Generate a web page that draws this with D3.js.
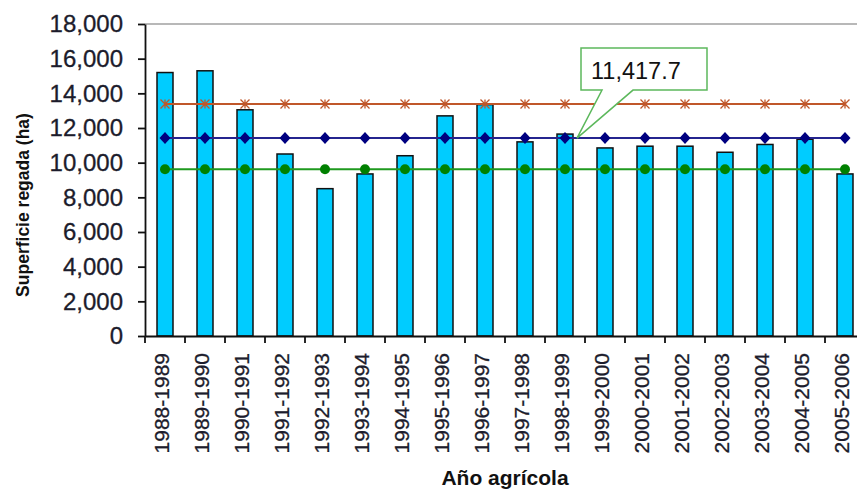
<!DOCTYPE html>
<html>
<head>
<meta charset="utf-8">
<script src="https://cdn.jsdelivr.net/npm/d3@7"></script>
<style>
  body { margin: 0; background: #fff; }
  svg { display: block; }
  text { font-family: "Liberation Sans", Arial, sans-serif; }
</style>
</head>
<body>
<svg width="857" height="491"></svg>
<script>
// data
const years = ["1988-1989", "1989-1990", "1990-1991", "1991-1992", "1992-1993", "1993-1994",
  "1994-1995", "1995-1996", "1996-1997", "1997-1998", "1998-1999", "1999-2000",
  "2000-2001", "2001-2002", "2002-2003", "2003-2004", "2004-2005", "2005-2006"]
const superficie = [15200, 15300, 13050, 10500, 8500, 9350, 10400, 12700, 13350,
  11200, 11650, 10850, 10950, 10950, 10600, 11050, 11350, 9350]
const upperLine = years.map(() => 13380)
const meanLine = years.map(() => 11417.7)
const lowerLine = years.map(() => 9620)
const yTicks = [0, 2000, 4000, 6000, 8000, 10000, 12000, 14000, 16000, 18000]
const calloutYear = "1998-1999"
const calloutValue = 11417.7

const svg = d3.select("svg")

// plot area (runs past the right edge, like the cropped original)
const plotLeft = 145, plotTop = 24, plotBottom = 336, plotRight = 865

const x = d3.scaleBand()
  .domain(years)
  .range([plotLeft, plotRight])
  .paddingInner(0.6)
  .paddingOuter(0.3)

const y = d3.scaleLinear()
  .domain([0, 18000])
  .range([plotBottom, plotTop])

const cx = d => x(d) + x.bandwidth() / 2

// gray top border of plot area
svg.append("line")
  .attr("x1", plotLeft).attr("x2", plotRight)
  .attr("y1", y(18000)).attr("y2", y(18000))
  .style("stroke", "#a0a0a0")
  .style("stroke-width", 1.5)

// bars
svg.append("g")
  .selectAll("rect")
  .data(superficie)
  .join("rect")
  .attr("x", (d, i) => x(years[i]))
  .attr("y", d => y(d))
  .attr("width", x.bandwidth())
  .attr("height", d => y(0) - y(d))
  .style("fill", "#00ccff")
  .style("stroke", "#111")
  .style("stroke-width", 1.5)

// horizontal reference lines
const line = d3.line()
  .x((d, i) => cx(years[i]))
  .y(d => y(d))

function drawSeries(values, lineColor) {
  svg.append("path")
    .datum(values)
    .attr("fill", "none")
    .attr("stroke", lineColor)
    .attr("stroke-width", 2)
    .attr("d", line)
}

drawSeries(upperLine, "#c0572a")
drawSeries(meanLine, "#25258f")
drawSeries(lowerLine, "#1f9a1f")

// star markers (x with a vertical bar)
svg.append("g")
  .selectAll("path")
  .data(upperLine)
  .join("path")
  .attr("d", (d, i) => {
    const px = cx(years[i]), py = y(d), s = 4.5
    return `M${px - s},${py - s}L${px + s},${py + s}M${px - s},${py + s}L${px + s},${py - s}M${px},${py - s}L${px},${py + s}`
  })
  .style("stroke", "#c0572a")
  .style("stroke-width", 1.3)
  .style("fill", "none")

// diamond markers
svg.append("g")
  .selectAll("path")
  .data(meanLine)
  .join("path")
  .attr("transform", (d, i) => `translate(${cx(years[i])},${y(d)})`)
  .attr("d", "M0,-6L5.5,0L0,6L-5.5,0Z")
  .style("fill", "#000080")

// circle markers
svg.append("g")
  .selectAll("circle")
  .data(lowerLine)
  .join("circle")
  .attr("cx", (d, i) => cx(years[i]))
  .attr("cy", d => y(d))
  .attr("r", 5)
  .style("fill", "#008000")

// y axis
const yaxis_group = svg.append("g")
  .attr("transform", "translate(" + plotLeft + ",0)")
  .call(d3.axisLeft(y)
    .tickValues(yTicks)
    .tickFormat(d3.format(","))
    .tickSize(7)
    .tickSizeOuter(0)
    .tickPadding(15))
yaxis_group.selectAll("line,path")
  .style("stroke", "#111")
  .style("stroke-width", 1.8)
yaxis_group.selectAll("text")
  .style("font-size", "24px")
  .style("fill", "#1c1c2c")
  .style("stroke", "#1c1c2c")
  .style("stroke-width", 0.3)

// x axis: ticks between the categories
const xaxis_group = svg.append("g")
  .attr("transform", "translate(0," + plotBottom + ")")
  .call(d3.axisBottom(x).tickSize(7).tickSizeOuter(0))
xaxis_group.selectAll("path")
  .style("stroke", "#111")
  .style("stroke-width", 1.8)
xaxis_group.selectAll(".tick line")
  .attr("x1", -x.step() / 2)
  .attr("x2", -x.step() / 2)
  .style("stroke", "#111")
  .style("stroke-width", 1.8)
xaxis_group.selectAll("text")
  .attr("transform", "rotate(-90)")
  .attr("text-anchor", "end")
  .attr("x", -17)
  .attr("y", -3)
  .attr("dy", "0.35em")
  .style("font-size", "21px")
  .style("fill", "#1c1c2c")
  .style("stroke", "#1c1c2c")
  .style("stroke-width", 0.3)

// axis titles
svg.append("text")
  .attr("transform", `translate(29,${(plotTop + plotBottom) / 2 + 25}) rotate(-90)`)
  .attr("text-anchor", "middle")
  .style("font-size", "17.5px")
  .style("font-weight", "bold")
  .style("fill", "#111")
  .text("Superficie regada (ha)")

svg.append("text")
  .attr("x", (plotLeft + plotRight) / 2)
  .attr("y", 485)
  .attr("text-anchor", "middle")
  .style("font-size", "21px")
  .style("font-weight", "bold")
  .style("fill", "#111")
  .text("Año agrícola")

// callout pointing at the mean line
const tip = { x: cx(calloutYear) + 12, y: y(calloutValue) }
const box = { x: tip.x + 4, y: tip.y - 90, w: 126, h: 42 }
svg.append("path")
  .attr("d", `M${box.x},${box.y}H${box.x + box.w}V${box.y + box.h}H${tip.x + 56}L${tip.x},${tip.y}L${tip.x + 25},${box.y + box.h}H${box.x}Z`)
  .style("fill", "#fff")
  .style("stroke", "#5cb85c")
  .style("stroke-width", 1.5)
svg.append("text")
  .attr("x", box.x + 10)
  .attr("y", box.y + 31)
  .style("font-size", "23.5px")
  .style("fill", "#111")
  .text(d3.format(",.1f")(calloutValue))
</script>
</body>
</html>
